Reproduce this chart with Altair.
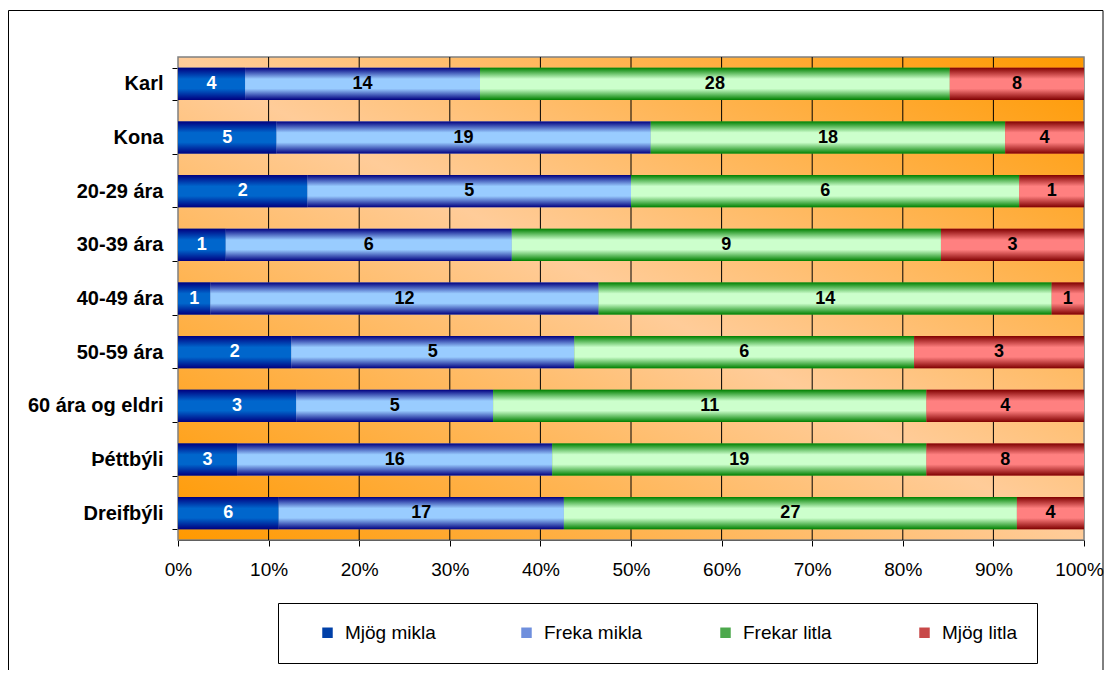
import altair as alt
import pandas as pd

categories = ["Karl", "Kona", "20-29 ára", "30-39 ára", "40-49 ára",
              "50-59 ára", "60 ára og eldri", "Þéttbýli", "Dreifbýli"]
series = ["Mjög mikla", "Freka mikla", "Frekar litla", "Mjög litla"]
mjog_mikla = [4, 5, 2, 1, 1, 2, 3, 3, 6]
freka_mikla = [14, 19, 5, 6, 12, 5, 5, 16, 17]
frekar_litla = [28, 18, 6, 9, 14, 6, 11, 19, 27]
mjog_litla = [8, 4, 1, 3, 1, 3, 4, 8, 4]
tick_values = [0, 0.1, 0.2, 0.3, 0.4, 0.5, 0.6, 0.7, 0.8, 0.9, 1.0]

dark_colors = ["#000080", "#000080", "#008000", "#800000"]
light_colors = ["#0066CC", "#99CCFF", "#CCFFCC", "#FF8080"]
legend_colors = ["#0040A8", "#6F8FDD", "#4CA84C", "#C84848"]

FONT = "Liberation Sans"

rows = []
for si, (name, vals) in enumerate(zip(series, [mjog_mikla, freka_mikla, frekar_litla, mjog_litla])):
    for c, v in zip(categories, vals):
        rows.append({"cat": c, "series": name, "order": si, "count": v})
df = pd.DataFrame(rows)

x_axis = alt.Axis(values=tick_values, format=".0%", grid=False, title=None,
                  labelFontSize=19, labelColor="black", labelFont=FONT,
                  tickColor="black", tickSize=6, domainColor="#000000",
                  labelPadding=14, labelFlush=False,
                  labelOffset=alt.condition("datum.value >= 1", alt.value(-5), alt.value(0)))
y_axis = alt.Axis(title=None, labelFontSize=20, labelFontWeight="bold",
                  labelColor="black", labelFont=FONT, tickBand="extent",
                  tickSize=6, tickColor="black", domainColor="#808080",
                  labelPadding=9, labelLimit=300)
x_scale = alt.Scale(domain=[0, 1], nice=False)
y_scale = alt.Scale(domain=categories, paddingInner=0.4, paddingOuter=0.2)

base = alt.Chart(df).transform_stack(
    stack="count", groupby=["cat"], as_=["x0", "x1"], offset="normalize",
    sort=[alt.SortField("order", "ascending")]
)

one = pd.DataFrame({"a": [0]})

bg_grad = {"gradient": "linear", "x1": 1, "y1": 0, "x2": 0, "y2": 1,
           "stops": [{"offset": 0, "color": "#FF9900"},
                     {"offset": 0.5, "color": "#FFCC99"},
                     {"offset": 1, "color": "#FF9900"}]}
bg = alt.Chart(one).mark_rect(fill=bg_grad, stroke="#808080", strokeWidth=1.5).encode(
    x=alt.value(0), x2=alt.value("width"), y=alt.value(0), y2=alt.value("height"))

grid = alt.Chart(pd.DataFrame({"t": tick_values[1:-1]})).mark_rule(
    color="#000000", strokeWidth=1).encode(
    x=alt.X("t:Q", scale=x_scale, axis=x_axis), y=alt.value(0), y2=alt.value("height"))

solid = base.mark_bar().encode(
    x=alt.X("x0:Q", scale=x_scale, axis=x_axis),
    x2="x1:Q",
    y=alt.Y("cat:N", scale=y_scale, axis=y_axis, sort=categories),
    color=alt.Color("series:N", sort=series,
                    scale=alt.Scale(domain=series, range=legend_colors),
                    legend=alt.Legend(orient="none", legendX=100, legendY=546,
                                      direction="horizontal", columns=4, title=None,
                                      gridAlign="all", columnPadding=53,
                                      symbolType="square", symbolSize=110,
                                      symbolStrokeWidth=0, symbolOffset=20,
                                      labelOffset=8, labelFontSize=19,
                                      labelFont=FONT, labelColor="black",
                                      strokeColor="#000000", padding=20,
                                      fillColor="white")),
)

grad_layers = []
for name, d, l in zip(series, dark_colors, light_colors):
    g = {"gradient": "linear", "x1": 0, "y1": 0, "x2": 0, "y2": 1,
         "stops": [{"offset": 0, "color": d},
                   {"offset": 0.35, "color": l},
                   {"offset": 0.65, "color": l},
                   {"offset": 1, "color": d}]}
    grad_layers.append(
        base.transform_filter(alt.datum.series == name).mark_bar(fill=g).encode(
            x=alt.X("x0:Q", scale=x_scale, axis=x_axis),
            x2="x1:Q",
            y=alt.Y("cat:N", scale=y_scale, axis=y_axis, sort=categories),
        )
    )

texts = base.transform_calculate(mid="(datum.x0 + datum.x1) / 2").mark_text(
    fontSize=18, fontWeight="bold", font=FONT, baseline="middle", align="center").encode(
    x=alt.X("mid:Q", scale=x_scale, axis=x_axis),
    y=alt.Y("cat:N", scale=y_scale, axis=y_axis, sort=categories),
    text="count:Q",
    color=alt.condition(alt.datum.series == "Mjög mikla", alt.value("white"), alt.value("black")),
)

frame = alt.Chart(one).mark_rect(fill="transparent", stroke="#000000", strokeWidth=1).encode(
    x=alt.value(-169.5), x2=alt.value(925), y=alt.value(-46.5), y2=alt.value(700))

chart = alt.layer(bg, grid, solid, *grad_layers, texts, frame).properties(
    width=906, height=483,
    autosize=alt.AutoSizeParams(type="none"),
    padding={"left": 170, "top": 49, "right": 20, "bottom": 130},
).configure_view(stroke=None).configure(font=FONT, background="white")

chart.save("out.html", embed_options={"renderer": "svg", "actions": False})
